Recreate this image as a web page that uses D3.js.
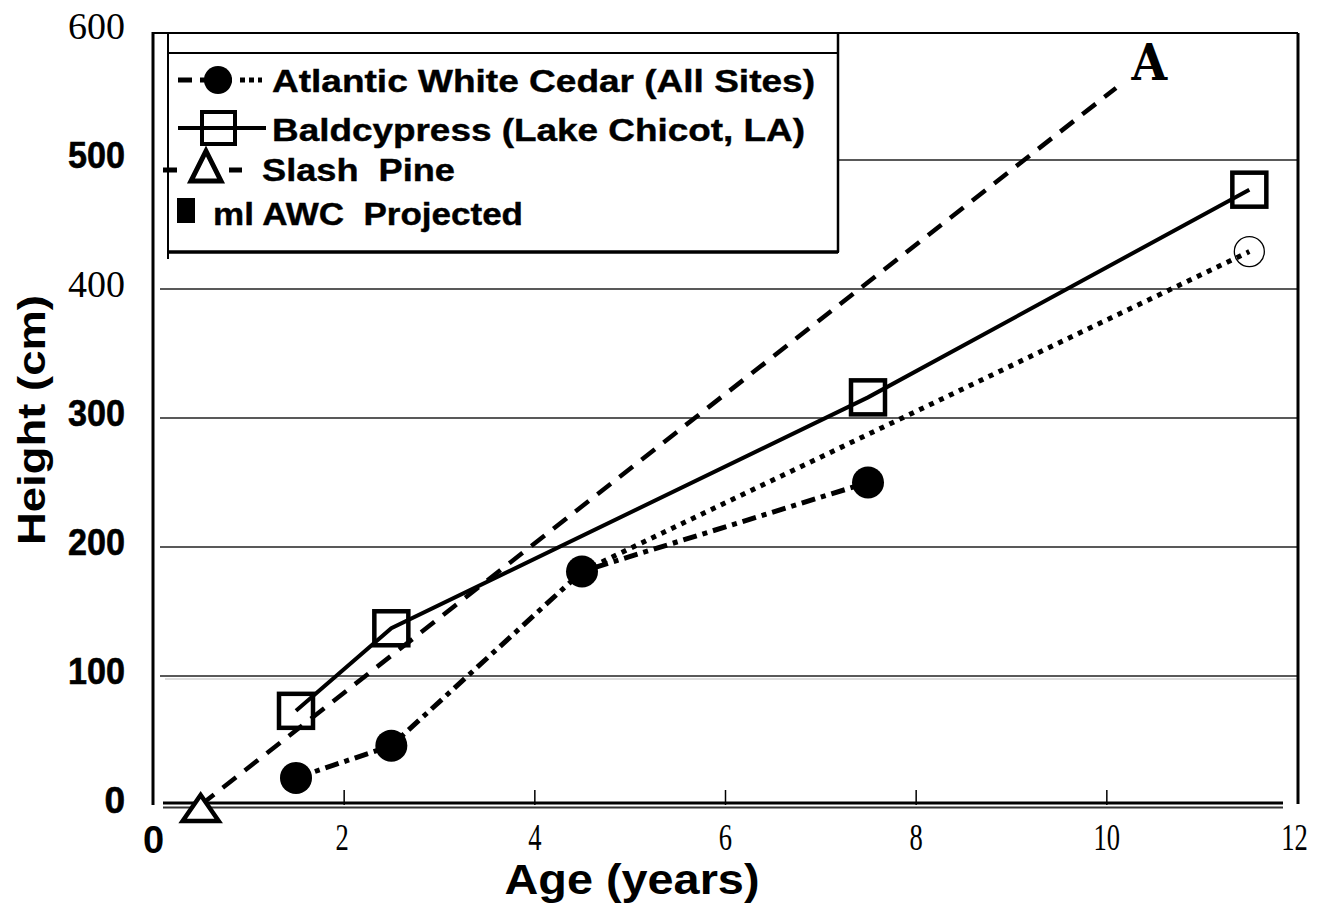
<!DOCTYPE html>
<html><head><meta charset="utf-8">
<script src="https://cdn.jsdelivr.net/npm/d3@7"></script>
<style>html,body{margin:0;padding:0;background:#fff;}svg{display:block;}</style>
</head><body>
<svg id="c" width="1324" height="911"></svg>
<script>
// ---- data ----
const awcAge = [1.5, 2.5, 4.5, 7.5];
const awcHeight = [21, 46, 181, 250];
const bcAge = [1.5, 2.5, 7.5, 11.5];
const bcHeight = [73, 137, 316, 477];
const spAge = [0.5, 10.45];
const spHeight = [0, 576];
const projAge = [4.5, 11.5];
const projHeight = [181, 429];
const xTicks = [0, 2, 4, 6, 8, 10, 12];
const yTicks = [0, 100, 200, 300, 400, 500, 600];
const legendLabels = ["Atlantic White Cedar (All Sites)", "Baldcypress (Lake Chicot, LA)", "Slash  Pine", "ml AWC  Projected"];
const xTitle = "Age (years)";
const yTitle = "Height (cm)";

const svg = d3.select("#c");
const x = d3.scaleLinear().domain([0, 12]).range([153, 1297]);
const y = d3.scaleLinear().domain([0, 600]).range([805, 31]);
const SANS = "'Liberation Sans', Arial, sans-serif";
const SERIF = "'Liberation Serif', 'Times New Roman', serif";

// gridlines
const grid = svg.append("g");
[100, 200, 300, 400].forEach(v => {
  grid.append("line").attr("x1", 160).attr("x2", x(12)).attr("y1", y(v)).attr("y2", y(v))
    .attr("stroke", "#222").attr("stroke-width", 1.5);
});
grid.append("line").attr("x1", 838).attr("x2", x(12)).attr("y1", y(500)).attr("y2", y(500))
  .attr("stroke", "#222").attr("stroke-width", 1.5);
grid.append("line").attr("x1", 165).attr("x2", x(12)).attr("y1", y(100) + 3).attr("y2", y(100) + 3)
  .attr("stroke", "#bbb").attr("stroke-width", 1);

// frame
svg.append("line").attr("x1", x(0)).attr("x2", x(0)).attr("y1", 32).attr("y2", 805).attr("stroke", "#000").attr("stroke-width", 3);
svg.append("line").attr("x1", x(0)).attr("x2", x(12) + 1).attr("y1", 33).attr("y2", 33).attr("stroke", "#000").attr("stroke-width", 2);
svg.append("line").attr("x1", x(12) + 1).attr("x2", x(12) + 1).attr("y1", 33).attr("y2", 804).attr("stroke", "#000").attr("stroke-width", 3);
svg.append("line").attr("x1", 163).attr("x2", 1283).attr("y1", 803).attr("y2", 803).attr("stroke", "#000").attr("stroke-width", 3);
svg.append("line").attr("x1", 163).attr("x2", 1283).attr("y1", 807.5).attr("y2", 807.5).attr("stroke", "#333").attr("stroke-width", 2);

// x axis ticks via d3 axis
const xAxis = d3.axisBottom(x).tickValues(xTicks).tickSize(0).tickPadding(0).tickFormat(d3.format("d"));
const xg = svg.append("g").attr("transform", "translate(0,805)").call(xAxis);
xg.select(".domain").remove();
xg.selectAll(".tick text").remove();
xg.selectAll(".tick").each(function(d) {
  const t = d3.select(this);
  if (d > 0 && d < 12) t.append("line").attr("y1", -15).attr("y2", 0).attr("stroke", "#000").attr("stroke-width", 1.5);
  const txt = t.append("text").attr("fill", "#000").attr("text-anchor", "middle");
  if (d === 0) {
    txt.attr("y", 48).attr("font-family", SANS).attr("font-weight", "bold").attr("font-size", 38).text(d);
  } else {
    const dx = d === 12 ? -3 : (d === 2 ? -2 : 0);
    txt.attr("font-family", SERIF).attr("font-size", 38)
      .attr("transform", `translate(${dx},45) scale(0.7,1)`).text(d);
  }
});

// y axis labels via d3 axis
const yAxis = d3.axisLeft(y).tickValues(yTicks).tickSize(0).tickFormat(d3.format("d"));
const yg = svg.append("g").attr("transform", "translate(125,0)").call(yAxis);
yg.select(".domain").remove();
yg.selectAll(".tick text").each(function(d) {
  const t = d3.select(this).attr("fill", "#000").attr("x", 0).attr("dy", null).attr("text-anchor", "end");
  if (d === 400 || d === 600) {
    t.attr("font-family", SERIF).attr("font-size", 38).attr("font-weight", "normal").attr("y", 7.5);
  } else {
    t.attr("font-family", SANS).attr("font-size", 37).attr("font-weight", "bold").attr("y", 7)
      .attr("stroke", "#000").attr("stroke-width", 0.6);
    if (d > 0) t.attr("textLength", 57).attr("lengthAdjust", "spacingAndGlyphs");
  }
});

// titles
svg.append("text").attr("x", 632).attr("y", 894).attr("text-anchor", "middle")
  .attr("font-family", SANS).attr("font-weight", "bold").attr("font-size", 42)
  .attr("textLength", 255).attr("lengthAdjust", "spacingAndGlyphs").text(xTitle);
svg.append("text").attr("transform", "translate(45,420) rotate(-90)").attr("text-anchor", "middle")
  .attr("font-family", SANS).attr("font-weight", "bold").attr("font-size", 38)
  .attr("textLength", 250).attr("lengthAdjust", "spacingAndGlyphs").text(yTitle);

const line = d3.line().x(d => x(d[0])).y(d => y(d[1]));
const zip = (a, b) => a.map((v, i) => [v, b[i]]);

// series lines
svg.append("path").datum(zip(projAge, projHeight)).attr("d", line).attr("fill", "none")
  .attr("stroke", "#000").attr("stroke-width", 5).attr("stroke-dasharray", "5,6");
// slash pine (stops short of the "A" marker)
const sp = zip(spAge, spHeight).map(d => [x(d[0]), y(d[1])]);
const spEnd = [sp[1][0] + (sp[0][0] - sp[1][0]) * 0.035, sp[1][1] + (sp[0][1] - sp[1][1]) * 0.035];
svg.append("path").attr("d", d3.line()([sp[0], spEnd])).attr("fill", "none")
  .attr("stroke", "#000").attr("stroke-width", 4.5).attr("stroke-dasharray", "17,11");
svg.append("path").datum(zip(awcAge, awcHeight)).attr("d", line).attr("fill", "none")
  .attr("stroke", "#000").attr("stroke-width", 5).attr("stroke-dasharray", "14,6,5,6");
svg.append("path").datum(zip(bcAge, bcHeight)).attr("d", line).attr("fill", "none")
  .attr("stroke", "#000").attr("stroke-width", 4);

// markers
svg.selectAll(".awc").data(zip(awcAge, awcHeight)).join("circle")
  .attr("cx", d => x(d[0])).attr("cy", d => y(d[1])).attr("r", 16).attr("fill", "#000");
svg.selectAll(".bc").data(zip(bcAge, bcHeight)).join("rect")
  .attr("x", d => x(d[0]) - 17).attr("y", d => y(d[1]) - 17).attr("width", 34).attr("height", 34)
  .attr("fill", "none").attr("stroke", "#000").attr("stroke-width", 4.5);
svg.append("circle").attr("cx", x(projAge[1])).attr("cy", y(projHeight[1])).attr("r", 15)
  .attr("fill", "none").attr("stroke", "#000").attr("stroke-width", 1.3);
// slash pine markers: triangle at start, "A" at end
const tri = (cx, cy, w, h) => `M${cx},${cy - h / 2}L${cx + w / 2},${cy + h / 2}L${cx - w / 2},${cy + h / 2}Z`;
svg.append("path").attr("d", tri(x(spAge[0]), y(spHeight[0]) + 3, 36, 26))
  .attr("fill", "#fff").attr("stroke", "#000").attr("stroke-width", 4.5);
svg.append("text").attr("x", x(spAge[1])).attr("y", y(spHeight[1]) + 18).attr("text-anchor", "middle")
  .attr("font-family", "'DejaVu Serif', 'Liberation Serif', serif").attr("font-weight", "bold")
  .attr("font-size", 50).attr("transform", `translate(${x(spAge[1])},0) scale(0.92,1) translate(${-x(spAge[1])},0)`).text("A");

// legend box
const lg = svg.append("g");
lg.append("rect").attr("x", 168).attr("y", 53).attr("width", 670).attr("height", 199)
  .attr("fill", "#fff").attr("stroke", "#000").attr("stroke-width", 2);
lg.append("line").attr("x1", 168).attr("x2", 838).attr("y1", 252).attr("y2", 252).attr("stroke", "#000").attr("stroke-width", 3.5);
lg.append("line").attr("x1", 168).attr("x2", 168).attr("y1", 33).attr("y2", 259).attr("stroke", "#000").attr("stroke-width", 2);
lg.append("line").attr("x1", 838).attr("x2", 838).attr("y1", 33).attr("y2", 252).attr("stroke", "#000").attr("stroke-width", 2.5);

// legend entries
lg.append("line").attr("x1", 178).attr("x2", 262).attr("y1", 80).attr("y2", 80).attr("stroke", "#000")
  .attr("stroke-width", 5).attr("stroke-dasharray", "14,8,5,4,5,4");
lg.append("circle").attr("cx", 218).attr("cy", 80).attr("r", 14).attr("fill", "#000");
lg.append("line").attr("x1", 178).attr("x2", 266).attr("y1", 128).attr("y2", 128).attr("stroke", "#000").attr("stroke-width", 4);
lg.append("rect").attr("x", 202).attr("y", 112).attr("width", 33).attr("height", 32)
  .attr("fill", "none").attr("stroke", "#000").attr("stroke-width", 4);
lg.append("line").attr("x1", 163).attr("x2", 242).attr("y1", 170).attr("y2", 170).attr("stroke", "#000")
  .attr("stroke-width", 5).attr("stroke-dasharray", "14,52,13");
lg.append("path").attr("d", tri(206, 166, 30, 30)).attr("fill", "none").attr("stroke", "#000").attr("stroke-width", 5);
lg.append("rect").attr("x", 177).attr("y", 198).attr("width", 18).attr("height", 25).attr("fill", "#000");

const lt = [[272, 92, 543], [272, 141, 533], [262, 181, 193], [213, 225, 310]];
lg.selectAll(".lt").data(legendLabels).join("text")
  .attr("x", (d, i) => lt[i][0]).attr("y", (d, i) => lt[i][1])
  .attr("font-family", SANS).attr("font-weight", "bold").attr("font-size", 31)
  .attr("stroke", "#000").attr("stroke-width", 0.4)
  .attr("textLength", (d, i) => lt[i][2]).attr("lengthAdjust", "spacingAndGlyphs")
  .attr("xml:space", "preserve").style("white-space", "pre").text(d => d);
</script>
</body></html>
